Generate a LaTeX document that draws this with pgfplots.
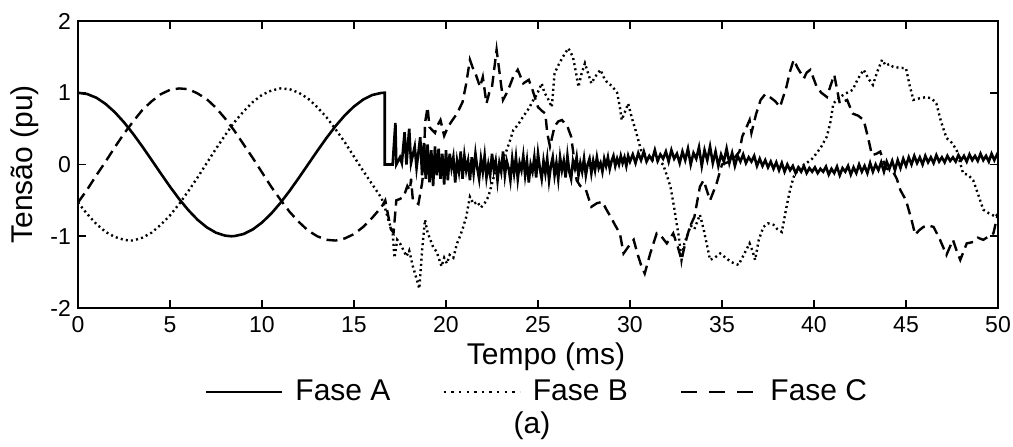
\documentclass[border=0pt]{standalone}
\usepackage{fontspec}
\setmainfont{Liberation Sans}
\usepackage{pgfplots}
\pgfplotsset{compat=1.18}

\begin{document}
\begin{tikzpicture}
\begin{axis}[
    scale only axis, width=460pt, height=143.5pt,
    xmin=0, xmax=50, ymin=-2, ymax=2,
    xtick={0,5,...,50}, xticklabels={0,5,10,15,20,25,30,35,40,45,50},
    ytick={-2,-1,0,1,2}, yticklabels={-2,-1,0,1,2},
    tick align=inside, major tick length=4pt,
    every tick/.style={black, line width=0.9pt},
    axis line style={line width=0.9pt},
    ticklabel style={font=\fontsize{11.5}{13}\selectfont},
    xticklabel style={anchor=base, yshift=-12.5pt},
    label style={font=\fontsize{15}{17}\selectfont},
    xlabel={Tempo (ms)}, ylabel={Tensão (pu)},
    xlabel style={at={([xshift=4pt,yshift=-28.5pt]axis description cs:0.5,0)}, anchor=base},
    ylabel style={at={([xshift=-22.5pt]axis description cs:0,0.5)}, anchor=base},
    legend columns=3,
    legend style={draw=none, fill=none, font=\fontsize{15}{17}\selectfont,
        at={([yshift=-42pt]axis description cs:0.5,0)}, anchor=center,
        /tikz/every even column/.append style={column sep=24pt}},
    legend image code/.code={\draw[#1] (0pt,0pt) -- (38pt,0pt); \path (42pt,0pt);},
]
% Fase A
\addplot[black, line width=1.3pt] coordinates {
(0,1) (0.5,0.982) (1,0.930) (1.5,0.844) (2,0.729) (2.5,0.588) (3,0.426) (3.5,0.249)
(4,0.063) (4.5,-0.125) (5,-0.309) (5.5,-0.482) (6,-0.637) (6.5,-0.771) (7,-0.876)
(7.5,-0.951) (8,-0.992) (8.33,-1) (8.5,-0.998) (9,-0.969) (9.5,-0.905) (10,-0.809)
(10.5,-0.685) (11,-0.536) (11.5,-0.368) (12,-0.187) (12.5,0) (13,0.187) (13.5,0.368)
(14,0.536) (14.5,0.685) (15,0.809) (15.5,0.905) (16,0.969) (16.5,0.998) (16.67,1.0)
(16.67,0) (17.1,0) (17.25,0.58) (17.3,0.0) (17.5,0.1) (17.6,0.02) (17.75,0.45)
(17.85,0.0) (18.0,0.5) (18.1,0.02) (18.3,0.25) (18.4,-0.05) (18.6,0.38) (18.7,-0.15)
(18.8,0.3) (18.9,-0.2) (19.0,0.28) (19.1,-0.25) (19.2,0.2) (19.3,-0.3) (19.4,0.25)
(19.5,-0.15) (19.6,0.22) (19.7,-0.2) (19.8,0.15) (19.9,-0.28)
(20.0,0.2) (20.1,-0.22) (20.2,0.15) (20.3,-0.05) (20.4,0.1) (20.5,-0.25) (20.6,0.05)
(20.7,-0.1) (20.8,0.18) (20.9,-0.2) (21.0,0.12) (21.1,-0.08) (21.2,0.05) (21.3,-0.22)
(21.4,0.1) (21.5,-0.12) (21.6,0.15) (21.7,-0.05) (21.8,-0.2) (21.9,0.08) (22.0,-0.1)
(22.1,0.12) (22.2,-0.18) (22.3,0.0) (22.4,-0.15) (22.5,0.15) (22.6,-0.08) (22.7,0.05)
(22.8,-0.22) (22.9,0.02) (23.0,-0.1) (23.1,0.18) (23.2,-0.15) (23.3,0.05) (23.4,-0.05)
(23.5,-0.22) (23.6,0.08) (23.7,-0.12) (23.8,0.1) (23.9,-0.2) (24.0,0.02) (24.1,-0.08)
(24.2,0.12) (24.3,-0.15) (24.4,0.05) (24.5,-0.25) (24.6,0.0) (24.7,-0.1) (24.8,0.1)
(24.9,-0.18) (25.0,0.15) (25.1,-0.05) (25.2,-0.2) (25.3,0.05) (25.4,-0.12) (25.5,0.08)
(25.6,-0.22) (25.7,-0.02) (25.8,0.1) (25.9,-0.15) (26.0,0.02) (26.1,-0.2) (26.2,0.1)
(26.3,-0.08) (26.4,0.05) (26.5,-0.18) (26.6,0.12) (26.7,-0.1) (26.8,-0.2) (26.9,0.05)
(27.0,-0.05) (27.1,0.1) (27.2,-0.15) (27.3,0.02) (27.4,-0.1) (27.5,0.08) (27.6,-0.15)
(27.7,0.0) (27.8,0.08) (27.9,-0.12) (28.0,0.05) (28.1,-0.08) (28.2,0.1) (28.3,-0.05)
(28.4,0.02) (28.5,-0.1) (28.6,0.08) (28.7,-0.02) (28.8,0.1) (28.9,-0.06) (29.0,0.05)
(29.1,0.12) (29.2,-0.02) (29.3,0.08) (29.4,0.0) (29.5,0.12) (29.6,0.02) (29.7,0.1)
(29.8,-0.02) (29.9,0.12) (30.0,0.04)
(30.15,0.14) (30.3,0.02) (30.45,0.16) (30.6,0.06) (30.75,0.18) (30.9,0.04) (31.05,0.12)
(31.2,0.06) (31.35,0.2) (31.5,0.05) (31.65,0.14) (31.8,0.08) (31.95,0.18) (32.1,0.04)
(32.25,0.2) (32.4,0.08) (32.55,0.15) (32.7,0.02) (32.85,0.18) (33.0,0.06) (33.15,0.22)
(33.3,0.0) (33.45,0.16) (33.6,0.08) (33.75,0.24) (33.9,-0.02) (34.05,0.2) (34.2,0.06)
(34.35,0.25) (34.5,0.02) (34.65,0.18) (34.8,-0.02) (34.95,0.14) (35.1,0.04) (35.25,0.22)
(35.4,0.02) (35.55,0.16) (35.7,-0.02) (35.85,0.12) (36.0,0.04) (36.15,0.14) (36.3,0.02)
(36.45,0.1) (36.6,0.04) (36.75,0.12) (36.9,-0.02) (37.05,0.08) (37.2,-0.02) (37.35,0.06)
(37.5,-0.04) (37.65,0.04) (37.8,-0.06) (37.95,0.03) (38.1,-0.08) (38.25,0.02) (38.4,-0.1)
(38.55,0.0) (38.7,-0.08) (38.85,-0.02) (39.0,-0.12) (39.15,-0.04) (39.3,-0.1) (39.45,-0.02)
(39.6,-0.12) (39.75,-0.05) (39.9,-0.1) (40.05,-0.04) (40.2,-0.12) (40.35,-0.06) (40.5,-0.1)
(40.65,-0.03) (40.8,-0.14) (40.95,-0.06) (41.1,-0.12) (41.25,-0.03) (41.4,-0.15) (41.55,-0.05)
(41.7,-0.1) (41.85,-0.02) (42.0,-0.14) (42.15,-0.04) (42.3,-0.12) (42.45,0.0) (42.6,-0.1)
(42.75,-0.02) (42.9,-0.12) (43.05,0.02) (43.2,-0.1) (43.35,0.0) (43.5,-0.08) (43.65,0.03)
(43.8,-0.1) (43.95,0.04) (44.1,-0.06) (44.25,0.05) (44.4,-0.08) (44.55,0.06) (44.7,-0.05)
(44.85,0.08) (45.0,-0.02) (45.15,0.1) (45.3,0.0) (45.45,0.12) (45.6,0.02) (45.75,0.1)
(45.9,0.0) (46.05,0.12) (46.2,0.03) (46.35,0.1) (46.5,0.02) (46.65,0.13) (46.8,0.04)
(46.95,0.1) (47.1,0.03) (47.25,0.12) (47.4,0.05) (47.55,0.1) (47.7,0.04) (47.85,0.13)
(48.0,0.06) (48.15,0.12) (48.3,0.04) (48.45,0.14) (48.6,0.06) (48.75,0.12) (48.9,0.05)
(49.05,0.15) (49.2,0.06) (49.35,0.12) (49.5,0.04) (49.65,0.15) (49.8,0.06) (49.95,0.14)
(50.0,0.1)
};
\addlegendentry{Fase A}
% Fase B
\addplot[black, line width=1.2pt, dash pattern=on 1pt off 1.6pt,
    legend image code/.code={\draw[black, line width=1.2pt, dash pattern=on 1.2pt off 2.6pt] (0pt,0pt) -- (38pt,0pt); \path (42pt,0pt);}] coordinates {
(0,-0.53) (0.5,-0.69) (1,-0.83) (1.5,-0.94) (2,-1.01) (2.5,-1.05) (2.78,-1.06) (3,-1.06)
(3.5,-1.02) (4,-0.95) (4.5,-0.84) (5,-0.71) (5.5,-0.55) (6,-0.37) (6.5,-0.18) (7,0.02)
(7.5,0.22) (8,0.41) (8.5,0.59) (9,0.74) (9.5,0.87) (10,0.97) (10.5,1.03) (11,1.06)
(11.5,1.05) (12,1.00) (12.5,0.92) (13,0.80) (13.5,0.66) (14,0.49) (14.5,0.31) (15,0.11)
(15.5,-0.09) (16,-0.28) (16.5,-0.47) (16.7,-0.62) (16.9,-0.8) (17.1,-0.95) (17.2,-1.3)
(17.35,-1.05) (17.5,-1.1) (17.7,-1.2) (17.85,-1.28) (18.0,-1.2) (18.2,-1.42) (18.35,-1.55)
(18.55,-1.73) (18.7,-1.2) (18.86,-0.77) (19.0,-0.95) (19.15,-1.05) (19.3,-1.15) (19.5,-1.22)
(19.6,-1.3) (19.76,-1.42) (19.9,-1.3) (20.05,-1.38) (20.2,-1.26) (20.4,-1.3) (20.6,-1.1)
(20.76,-1.0) (20.9,-0.9) (21.1,-0.73) (21.3,-0.45) (21.5,-0.55) (21.7,-0.52) (21.9,-0.6)
(22.1,-0.54) (22.3,-0.45) (22.55,-0.22) (22.75,-0.03) (22.9,0.0) (23.1,0.08) (23.3,0.2)
(23.5,0.35) (23.66,0.48) (23.9,0.55) (24.2,0.67) (24.5,0.78) (24.75,0.9) (24.95,0.98)
(25.2,1.13) (25.35,1.0) (25.5,0.94) (25.75,0.8) (25.9,1.27) (26.1,1.38) (26.35,1.5)
(26.65,1.62) (26.9,1.5) (27.05,1.3) (27.2,1.08) (27.35,1.25) (27.55,1.41) (27.75,1.25)
(27.9,1.13) (28.1,1.22) (28.4,1.32) (28.6,1.2) (28.8,1.13) (29.0,1.1) (29.3,1.0)
(29.45,0.8) (29.55,0.62) (29.75,0.75) (29.9,0.85) (30.1,0.65) (30.3,0.48) (30.6,0.2)
(30.9,0.12) (31.25,0.06) (31.5,0.05) (31.8,0.0) (32.0,-0.15) (32.2,-0.31) (32.4,-0.6)
(32.5,-0.77) (32.65,-1.0) (32.8,-1.33) (32.95,-1.1) (33.1,-1.0) (33.3,-0.85) (33.5,-0.9)
(33.8,-0.7) (34.0,-0.9) (34.35,-1.33) (34.6,-1.3) (34.9,-1.24) (35.2,-1.3) (35.5,-1.36)
(35.9,-1.4) (36.2,-1.25) (36.5,-1.1) (36.65,-1.2) (36.8,-1.33) (37.0,-1.05) (37.25,-0.87)
(37.5,-0.82) (37.8,-0.84) (38.0,-0.9) (38.25,-0.94) (38.5,-0.6) (38.7,-0.35) (38.9,-0.17)
(39.2,-0.05) (39.6,0.02) (39.9,0.08) (40.15,0.16) (40.4,0.25) (40.7,0.39) (40.9,0.6)
(41.05,0.85) (41.4,0.94) (41.8,1.0) (42.1,1.04) (42.4,1.2) (42.7,1.32) (42.95,1.2)
(43.2,1.11) (43.45,1.3) (43.7,1.46) (43.9,1.38) (44.1,1.4) (44.3,1.36) (44.6,1.35)
(45.0,1.34) (45.2,1.1) (45.4,0.9) (45.7,0.92) (46.1,0.94) (46.4,0.92) (46.65,0.85)
(46.9,0.6) (47.2,0.37) (47.5,0.3) (47.75,0.2) (48.1,-0.12) (48.4,-0.15) (48.65,-0.22)
(48.9,-0.4) (49.2,-0.63) (49.5,-0.68) (49.9,-0.73) (50.0,-0.65)
};
\addlegendentry{Fase B}
% Fase C
\addplot[black, line width=1.2pt, dash pattern=on 5.5pt off 3pt,
    legend image code/.code={\draw[black, line width=1.3pt, dash pattern=on 8pt off 6pt] (0pt,0pt) -- (38pt,0pt); \path (42pt,0pt);}] coordinates {
(0,-0.53) (0.5,-0.35) (1,-0.15) (1.5,0.04) (2,0.24) (2.5,0.43) (3,0.60) (3.5,0.76)
(4,0.88) (4.5,0.98) (5,1.04) (5.5,1.06) (6,1.05) (6.5,0.99) (7,0.91) (7.5,0.79)
(8,0.64) (8.5,0.47) (9,0.28) (9.5,0.09) (10,-0.11) (10.5,-0.31) (11,-0.49) (11.5,-0.66)
(12,-0.80) (12.5,-0.92) (13,-1.00) (13.5,-1.05) (14,-1.06) (14.5,-1.03) (15,-0.97)
(15.5,-0.87) (16,-0.74) (16.5,-0.59) (16.7,-0.5) (16.85,-0.7) (17.0,-0.9) (17.15,-0.95)
(17.3,-0.5) (17.5,-0.48) (17.7,-0.45) (17.9,-0.3) (18.04,-0.36) (18.1,-0.2) (18.2,-0.5)
(18.5,-0.55) (18.7,-0.26) (18.8,-0.03) (18.86,0.58) (19.0,0.8) (19.1,0.52) (19.25,0.48)
(19.4,0.44) (19.55,0.55) (19.7,0.62) (19.9,0.4) (20.1,0.52) (20.3,0.6) (20.6,0.71)
(20.9,0.87) (21.1,1.13) (21.3,1.46) (21.45,1.35) (21.6,1.27) (21.85,1.08) (22.0,1.22)
(22.2,0.85) (22.35,1.0) (22.5,1.08) (22.75,1.6) (22.9,1.3) (23.1,0.9) (23.35,1.02)
(23.65,1.22) (23.9,1.32) (24.2,1.13) (24.5,1.18) (24.7,1.04) (25.0,0.8) (25.2,0.75)
(25.4,0.71) (25.5,0.44) (25.65,0.25) (25.9,0.53) (26.1,0.6) (26.3,0.62) (26.6,0.53)
(26.8,0.39) (26.9,0.2) (27.1,-0.22) (27.3,-0.3) (27.6,-0.35) (27.9,-0.59) (28.2,-0.54)
(28.5,-0.52) (28.7,-0.62) (28.95,-0.73) (29.2,-0.85) (29.45,-0.96) (29.65,-1.24)
(29.9,-1.15) (30.2,-1.05) (30.4,-1.24) (30.6,-1.4) (30.8,-1.52) (31.1,-1.24) (31.45,-0.96)
(31.7,-1.0) (32.0,-1.1) (32.35,-0.96) (32.6,-1.15) (32.8,-1.33) (33.0,-1.1) (33.25,-0.87)
(33.5,-0.73) (33.8,-0.31) (34.0,-0.22) (34.35,-0.5) (34.7,-0.27) (35.0,0.0) (35.4,0.04)
(35.7,0.1) (35.95,0.18) (36.1,0.39) (36.3,0.5) (36.5,0.62) (36.6,0.44) (36.85,0.7)
(37.1,0.9) (37.35,0.98) (37.6,0.94) (37.9,0.88) (38.15,0.8) (38.5,1.08) (38.7,1.3)
(38.9,1.46) (39.1,1.35) (39.45,1.2) (39.6,1.28) (39.8,1.32) (40.15,1.08) (40.4,1.0)
(40.7,0.94) (40.9,1.1) (41.1,1.25) (41.25,1.05) (41.4,0.85) (41.8,0.9) (42.1,0.71)
(42.4,0.68) (42.7,0.62) (42.95,0.36) (43.15,0.13) (43.4,0.15) (43.6,0.18) (43.9,-0.05)
(44.3,-0.1) (44.5,-0.2) (44.7,-0.36) (45.0,-0.5) (45.3,-0.77) (45.5,-0.98) (45.7,-0.92)
(45.95,-0.87) (46.2,-0.85) (46.5,-0.87) (46.85,-1.05) (47.2,-1.26) (47.55,-1.05)
(47.75,-1.2) (47.95,-1.33) (48.3,-1.1) (48.65,-1.08) (48.9,-1.02) (49.2,-1.05)
(49.5,-1.0) (49.75,-0.96) (50.0,-0.68)
};
\addlegendentry{Fase C}
\end{axis}
\node[font=\fontsize{15}{17}\selectfont] at ([xshift=-3pt,yshift=-59pt]current axis.south) {(a)};
\pgfresetboundingbox
\path[use as bounding box] ([xshift=-39pt,yshift=-69.5pt]current axis.south west)
    rectangle ([xshift=7.5pt,yshift=10.5pt]current axis.north east);
\end{tikzpicture}
\end{document}
